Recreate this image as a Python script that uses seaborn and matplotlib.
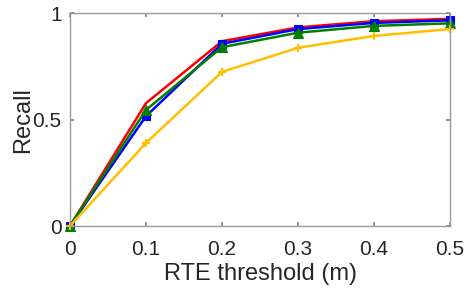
import numpy as np
import pandas as pd
import matplotlib
matplotlib.use("Agg")
import matplotlib.pyplot as plt
import seaborn as sns

# data
thresholds = [0, 0.1, 0.2, 0.3, 0.4, 0.5]
recall_red = [0, 0.577, 0.868, 0.933, 0.962, 0.973]
recall_blue = [0, 0.516, 0.856, 0.925, 0.954, 0.966]
recall_green = [0, 0.545, 0.840, 0.908, 0.940, 0.952]
recall_yellow = [0, 0.390, 0.724, 0.837, 0.893, 0.925]

sns.set_theme(style="white")
plt.rcParams['font.family'] = ['Liberation Sans', 'DejaVu Sans']

fig, ax = plt.subplots(figsize=(4.66, 2.91), dpi=100)

series = [
    (recall_red, "#ff0000", None, 0),
    (recall_blue, "#0000ff", "s", 5.5),
    (recall_green, "#008000", "^", 6.5),
    (recall_yellow, "#ffbf00", "+", 5.5),
]
for vals, col, mk, ms in series:
    sns.lineplot(x=thresholds, y=vals, ax=ax, color=col, linewidth=1.8,
                 marker=mk, markersize=ms, markeredgecolor=col,
                 markeredgewidth=1.5 if mk == "+" else 0.8, clip_on=False)

ax.set_xlim(0, 0.5)
ax.set_ylim(0, 1)
ax.set_xticks([0, 0.1, 0.2, 0.3, 0.4, 0.5])
ax.set_xticklabels(["0", "0.1", "0.2", "0.3", "0.4", "0.5"])
ax.set_yticks([0, 0.5, 1])
ax.set_yticklabels(["0", "0.5", "1"])
ax.set_xlabel("RTE threshold (m)", fontsize=17, color="#262626", labelpad=3)
ax.set_ylabel("Recall", fontsize=17, color="#262626", labelpad=-1)
ax.tick_params(axis="both", direction="in", labelsize=15, length=3,
               color="#888888", labelcolor="#262626", top=True, right=True,
               bottom=True, left=True)
ax.tick_params(axis="x", pad=10)
ax.tick_params(axis="y", pad=6)
for s in ax.spines.values():
    s.set_color("#999999")
    s.set_linewidth(1)

fig.subplots_adjust(left=0.15, right=0.966, top=0.955, bottom=0.223)
fig.savefig("out.png", dpi=100)
